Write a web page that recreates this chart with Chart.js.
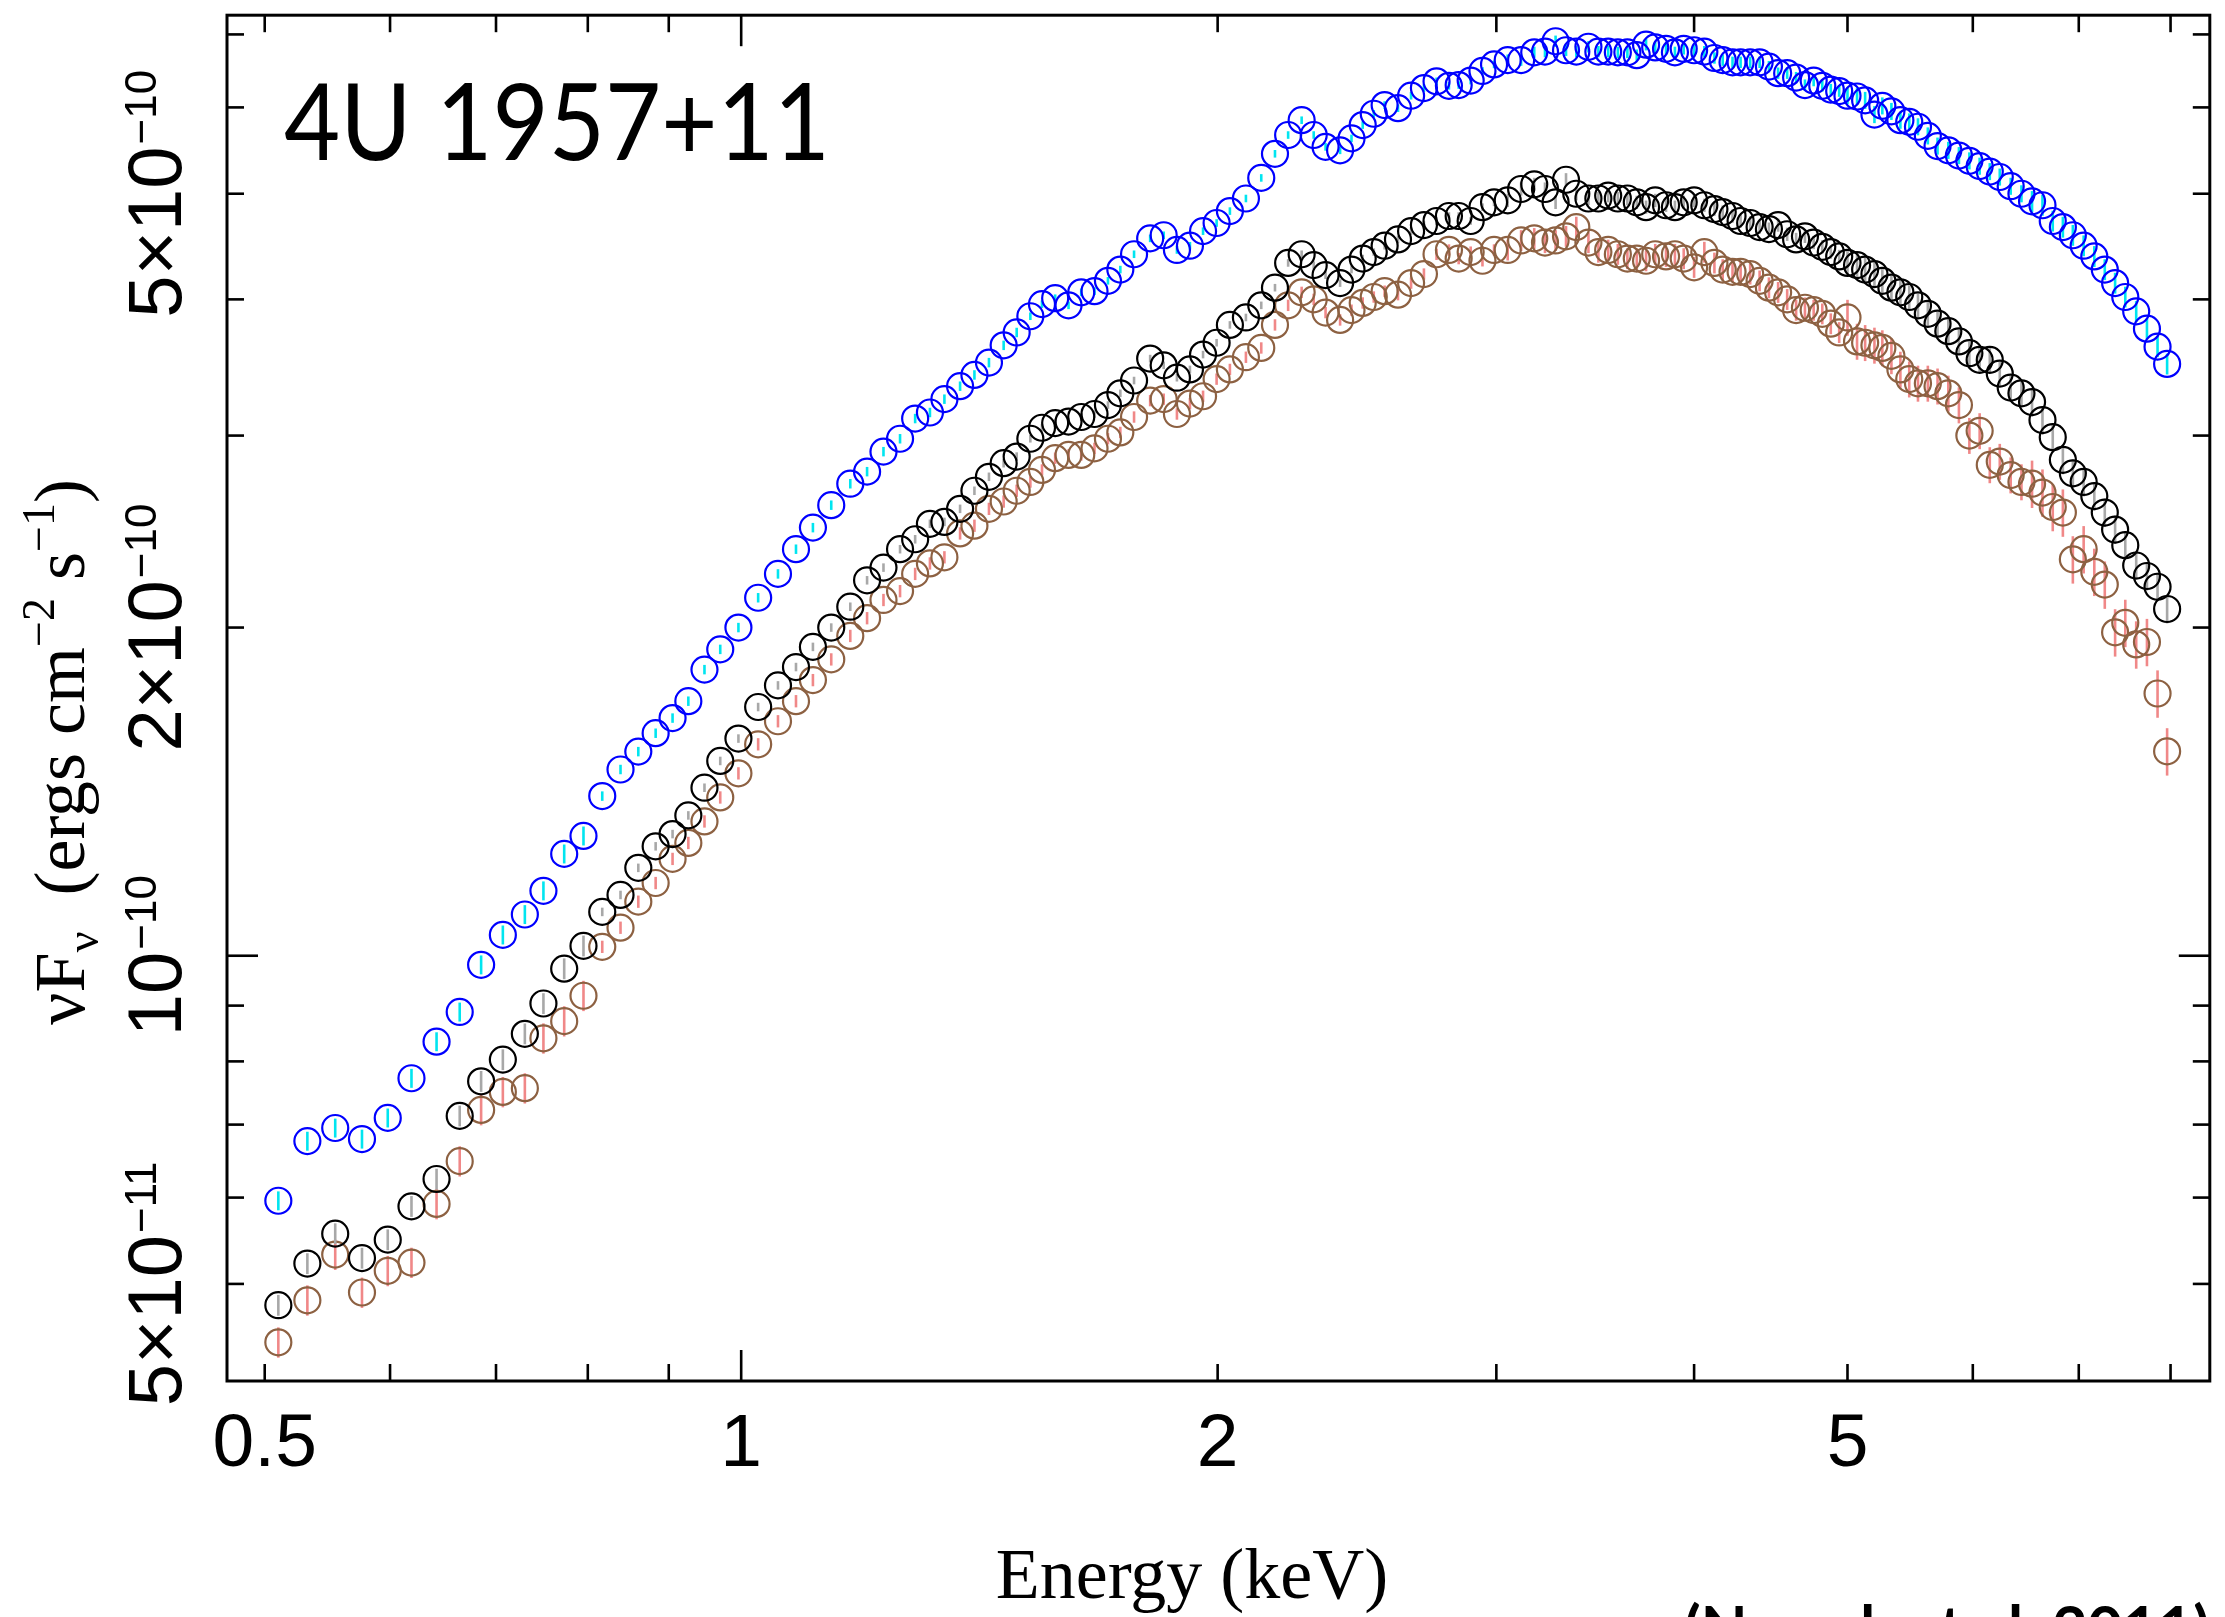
<!DOCTYPE html>
<html>
<head>
<meta charset="utf-8">
<script src="https://cdn.jsdelivr.net/npm/chart.js@4.4.1/dist/chart.umd.min.js"></script>
<style>
  html, body { margin: 0; padding: 0; background: #fff; }
  #wrap { width: 2225px; height: 1617px; }
</style>
</head>
<body>
<div id="wrap"><canvas id="spectrum" width="2225" height="1617"></canvas></div>
<script>
// energies (keV) of the spectral bins, shared by all three spectra
const energyKeV = [
  0.510, 0.532, 0.554, 0.576, 0.598, 0.619, 0.642, 0.664, 0.685, 0.707,
  0.730, 0.750, 0.773, 0.795, 0.817, 0.839, 0.861, 0.883, 0.905, 0.926,
  0.948, 0.970, 0.996, 1.025, 1.055, 1.083,
  1.11, 1.14, 1.172, 1.201, 1.230, 1.260, 1.288, 1.316, 1.344, 1.375,
  1.404, 1.434, 1.465, 1.493, 1.523, 1.549, 1.579, 1.610, 1.640, 1.672,
  1.705, 1.736, 1.771, 1.813, 1.849, 1.885, 1.921, 1.958, 1.997, 2.036,
  2.084, 2.131, 2.174, 2.216, 2.260, 2.30, 2.34, 2.39, 2.43, 2.47,
  2.51, 2.55, 2.60, 2.65, 2.70, 2.75, 2.80, 2.84, 2.89, 2.94,
  2.99, 3.05, 3.11, 3.17, 3.22, 3.27, 3.32, 3.37, 3.43, 3.48,
  3.53, 3.58, 3.63, 3.68, 3.73, 3.78, 3.84, 3.89, 3.94, 4.00,
  4.06, 4.12, 4.17, 4.23, 4.28, 4.34, 4.40, 4.46, 4.52, 4.58,
  4.64, 4.70, 4.76, 4.82, 4.88, 4.94, 5.00, 5.07, 5.13, 5.20,
  5.26, 5.33, 5.40, 5.47, 5.54, 5.62, 5.70,
  5.79, 5.88, 5.97, 6.06, 6.15, 6.24, 6.34, 6.44, 6.54, 6.64,
  6.74, 6.84, 6.94, 7.05, 7.16, 7.27, 7.38, 7.49, 7.61, 7.73,
  7.85, 7.96
];

// nuFnu in units of 1e-10 ergs cm^-2 s^-1
const fluxBlue = [
  0.596, 0.676, 0.695, 0.679, 0.710, 0.772, 0.834, 0.888, 0.981, 1.045,
  1.091, 1.147, 1.240, 1.288, 1.401, 1.482, 1.539, 1.600, 1.652, 1.712,
  1.83, 1.91, 2.00, 2.13, 2.24, 2.36,
  2.47, 2.59, 2.71, 2.78, 2.90, 2.98, 3.11, 3.15, 3.24, 3.33,
  3.41, 3.50, 3.63, 3.73, 3.86, 3.96, 4.01, 3.95, 4.06, 4.07,
  4.16, 4.26, 4.40, 4.55, 4.58, 4.44, 4.48, 4.62, 4.70, 4.82,
  4.95, 5.17, 5.44, 5.66, 5.84, 5.66, 5.52, 5.48, 5.62, 5.78,
  5.92, 6.03, 5.99, 6.15, 6.25, 6.34, 6.28, 6.29, 6.35, 6.48,
  6.57, 6.63, 6.63, 6.74, 6.75, 6.90, 6.77, 6.75, 6.82, 6.75,
  6.75, 6.74, 6.74, 6.70, 6.85, 6.81, 6.79, 6.74, 6.79, 6.77,
  6.75, 6.66, 6.63, 6.60, 6.60, 6.60, 6.60, 6.54, 6.45, 6.45,
  6.39, 6.29, 6.35, 6.28, 6.23, 6.21, 6.15, 6.14, 6.09, 5.91,
  6.02, 5.95, 5.84, 5.82, 5.76, 5.65, 5.53,
  5.48, 5.42, 5.36, 5.30, 5.24, 5.18, 5.08, 5.00, 4.92, 4.88,
  4.72, 4.66, 4.58, 4.48, 4.38, 4.26, 4.14, 4.02, 3.90, 3.76,
  3.62, 3.49
];

const fluxBlack = [
  0.478, 0.522, 0.556, 0.528, 0.549, 0.589, 0.624, 0.713, 0.767, 0.803,
  0.848, 0.904, 0.973, 1.021, 1.097, 1.137, 1.204, 1.260, 1.293, 1.345,
  1.426, 1.509, 1.582, 1.691, 1.77, 1.84,
  1.92, 2.00, 2.09, 2.21, 2.27, 2.36, 2.41, 2.49, 2.50, 2.57,
  2.67, 2.75, 2.83, 2.87, 2.98, 3.05, 3.08, 3.09, 3.12, 3.14,
  3.20, 3.28, 3.37, 3.53, 3.48, 3.39, 3.45, 3.56, 3.65, 3.79,
  3.85, 3.95, 4.10, 4.32, 4.40, 4.30, 4.21, 4.14, 4.26, 4.36,
  4.42, 4.48, 4.54, 4.62, 4.68, 4.72, 4.77, 4.77, 4.72, 4.86,
  4.91, 4.93, 5.05, 5.10, 5.05, 4.91, 5.15, 5.00, 4.95, 4.95,
  4.98, 4.95, 4.95, 4.91, 4.86, 4.93, 4.88, 4.86, 4.91, 4.93,
  4.88, 4.84, 4.81, 4.77, 4.72, 4.70, 4.66, 4.64, 4.68, 4.59,
  4.54, 4.57, 4.51, 4.47, 4.42, 4.38, 4.32, 4.30, 4.26, 4.22,
  4.16, 4.10, 4.06, 4.02, 3.95, 3.88, 3.80,
  3.74, 3.66, 3.57, 3.52, 3.52, 3.42, 3.32, 3.28, 3.22, 3.10,
  2.99, 2.85, 2.77, 2.72, 2.64, 2.55, 2.46, 2.38, 2.28, 2.23,
  2.18, 2.08
];

const fluxBrown = [
  0.442, 0.483, 0.532, 0.491, 0.514, 0.523, 0.592, 0.648, 0.722, 0.750,
  0.756, 0.840, 0.871, 0.919, 1.019, 1.061, 1.121, 1.166, 1.227, 1.269,
  1.328, 1.397, 1.470, 1.563, 1.641, 1.712,
  1.79, 1.87, 1.965, 2.04, 2.12, 2.16, 2.24, 2.29, 2.32, 2.44,
  2.48, 2.57, 2.61, 2.67, 2.72, 2.79, 2.86, 2.88, 2.88, 2.92,
  2.98, 3.02, 3.12, 3.23, 3.24, 3.14, 3.21, 3.26, 3.38, 3.45,
  3.54, 3.61, 3.79, 3.95, 4.06, 4.00, 3.89, 3.83, 3.91, 3.97,
  4.02, 4.07, 4.04, 4.14, 4.22, 4.40, 4.44, 4.36, 4.42, 4.34,
  4.44, 4.44, 4.53, 4.55, 4.51, 4.53, 4.57, 4.66, 4.51, 4.42,
  4.44, 4.40, 4.36, 4.36, 4.34, 4.40, 4.38, 4.40, 4.36, 4.28,
  4.42, 4.32, 4.26, 4.24, 4.24, 4.22, 4.16, 4.10, 4.06, 4.00,
  3.91, 3.93, 3.91, 3.88, 3.80, 3.73, 3.85, 3.66, 3.65, 3.63,
  3.61, 3.55, 3.45, 3.38, 3.35, 3.35, 3.33,
  3.28, 3.20, 3.00, 3.03, 2.82, 2.84, 2.76, 2.72, 2.71, 2.66,
  2.58, 2.55, 2.31, 2.36, 2.25, 2.19, 1.98, 2.02, 1.93, 1.94,
  1.74, 1.54
];

// fractional 1-sigma errors, per energy band (band upper edges in keV)
const errBandEdges = [0.8, 1.5, 3.0, 5.0, 6.5, 99];
const errBlue  = [0.020, 0.010, 0.008, 0.012, 0.018, 0.022];
const errBlack = [0.022, 0.009, 0.008, 0.014, 0.025, 0.030];
const errBrown = [0.032, 0.013, 0.012, 0.022, 0.038, 0.050];

// axis ticks
const xTickLabels = [0.5, 1, 2, 5];
const xMinorTicks = [0.5, 0.6, 0.7, 0.8, 0.9, 2, 3, 4, 5, 6, 7, 8];
const xMajorTicks = [1];
const yTickValues = [0.5, 1, 2, 5];
const yTickMantissa = ["5\u00d710", "10", "2\u00d710", "5\u00d710"];
const yTickExponent = ["\u221211", "\u221210", "\u221210", "\u221210"];
const yMinorTicks = [0.5, 0.6, 0.7, 0.8, 0.9, 2, 3, 4, 5, 6, 7];
const yMajorTicks = [1];

const SANS = '"Liberation Sans", Arial, sans-serif';
const SERIF = '"Liberation Serif", "Times New Roman", serif';

function points(vals) {
    return energyKeV.map((e, i) => ({ x: e, y: vals[i] }));
}

function relErr(tbl, e) {
    for (let i = 0; i < errBandEdges.length; i++) {
        if (e < errBandEdges[i]) return tbl[i];
    }
    return tbl[tbl.length - 1];
}

/* error bars under each spectrum's circles */
const errorBars = {
    id: "errorBars",
    beforeDatasetDraw(chart, args) {
        const ds = chart.data.datasets[args.index];
        const xs = chart.scales.x, ys = chart.scales.y;
        const c = chart.ctx;
        c.save();
        c.strokeStyle = ds.errColor;
        c.lineWidth = 2.6;
        ds.data.forEach(p => {
            const r = relErr(ds.errTable, p.x);
            const px = xs.getPixelForValue(p.x);
            c.beginPath();
            c.moveTo(px, ys.getPixelForValue(p.y * (1 + r)));
            c.lineTo(px, ys.getPixelForValue(p.y * (1 - r)));
            c.stroke();
        });
        c.restore();
    }
};

/* box, inward ticks, labels, titles */
const frame = {
    id: "frame",
    afterDraw(chart) {
        const c = chart.ctx, a = chart.chartArea;
        const xs = chart.scales.x, ys = chart.scales.y;
        c.save();
        c.strokeStyle = "#000";
        c.lineWidth = 3;
        c.strokeRect(a.left, a.top, a.right - a.left, a.bottom - a.top);

        c.lineWidth = 2.6;
        const line = (x1, y1, x2, y2) => {
            c.beginPath(); c.moveTo(x1, y1); c.lineTo(x2, y2); c.stroke();
        };
        const xTick = (v, len) => {
            const px = xs.getPixelForValue(v);
            line(px, a.bottom, px, a.bottom - len);
            line(px, a.top, px, a.top + len);
        };
        const yTick = (v, len) => {
            const py = ys.getPixelForValue(v);
            line(a.left, py, a.left + len, py);
            line(a.right, py, a.right - len, py);
        };
        xMinorTicks.forEach(v => xTick(v, 17));
        xMajorTicks.forEach(v => xTick(v, 31));
        yMinorTicks.forEach(v => yTick(v, 17));
        yMajorTicks.forEach(v => yTick(v, 31));

        c.fillStyle = "#000";
        c.textBaseline = "alphabetic";

        // x tick labels
        c.font = "75px " + SANS;
        c.textAlign = "center";
        xTickLabels.forEach(v => c.fillText(String(v), xs.getPixelForValue(v), 1466));

        // y tick labels, rotated
        c.textAlign = "left";
        yTickValues.forEach((v, i) => {
            const py = ys.getPixelForValue(v);
            c.save();
            c.translate(181, py);
            c.rotate(-Math.PI / 2);
            c.font = "76px " + SANS;
            const w1 = c.measureText(yTickMantissa[i]).width;
            c.font = "44px " + SANS;
            const w2 = c.measureText(yTickExponent[i]).width;
            const x0 = -(w1 + w2 + 2) / 2;
            c.font = "76px " + SANS;
            c.fillText(yTickMantissa[i], x0, 0);
            c.font = "44px " + SANS;
            c.fillText(yTickExponent[i], x0 + w1 + 2, -25);
            c.restore();
        });

        // x title
        c.font = "72px " + SERIF;
        c.textAlign = "center";
        c.fillText("Energy (keV)", 1192, 1598);

        // y title: nuF_nu (ergs cm^-2 s^-1)
        const segs = [
            ["\u03bdF", 72, 0], ["\u03bd", 46, 14], ["  (ergs cm", 72, 0],
            ["\u22122", 46, -30], [" s", 72, 0], ["\u22121", 46, -30], [")", 72, 0]
        ];
        c.save();
        c.translate(84, 752);
        c.rotate(-Math.PI / 2);
        c.textAlign = "left";
        let total = 0;
        segs.forEach(s => { c.font = s[1] + "px " + SERIF; total += c.measureText(s[0]).width; });
        let cx = -total / 2;
        segs.forEach(s => {
            c.font = s[1] + "px " + SERIF;
            c.fillText(s[0], cx, s[2]);
            cx += c.measureText(s[0]).width;
        });
        c.restore();

        // source name
        c.font = "107px Lato, sans-serif";
        c.textAlign = "left";
        const name = "4U 1957+11";
        const wn = c.measureText(name).width;
        c.save();
        c.translate(284, 160);
        c.scale(546 / wn, 1);
        c.fillText(name, 0, 0);
        c.restore();

        // reference, cut by the bottom edge
        c.font = "bold 62px Lato, sans-serif";
        const ref = "(Nowak et al. 2011)";
        const wr = c.measureText(ref).width;
        c.save();
        c.translate(1684, 1650);
        c.scale(526 / wr, 1);
        c.fillText(ref, 0, 0);
        c.restore();

        c.restore();
    }
};

new Chart(document.getElementById("spectrum"), {
    type: "scatter",
    data: {
        datasets: [
            { label: "high", data: points(fluxBlue), borderColor: "#0000ff",
              errColor: "#00e5f0", errTable: errBlue },
            { label: "mid", data: points(fluxBlack), borderColor: "#000000",
              errColor: "#a8a8a8", errTable: errBlack },
            { label: "low", data: points(fluxBrown), borderColor: "#8d6142",
              errColor: "#f08888", errTable: errBrown }
        ]
    },
    options: {
        responsive: false,
        animation: false,
        devicePixelRatio: 1,
        layout: { padding: { left: 227, top: 13, right: 5, bottom: 236 } },
        plugins: { legend: { display: false }, tooltip: { enabled: false } },
        elements: {
            point: { radius: 13, hoverRadius: 13, borderWidth: 2.2,
                     backgroundColor: "rgba(0,0,0,0)", pointStyle: "circle" }
        },
        scales: {
            x: { type: "logarithmic", min: 0.4733, max: 8.47, display: false },
            y: { type: "logarithmic", min: 0.4073, max: 7.29, display: false }
        }
    },
    plugins: [errorBars, frame]
});
</script>
</body>
</html>
